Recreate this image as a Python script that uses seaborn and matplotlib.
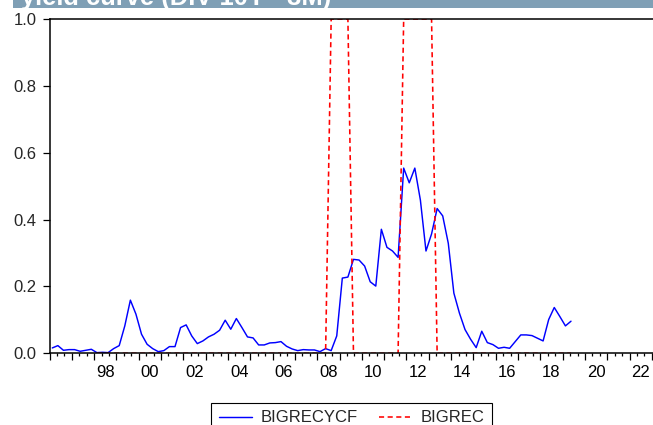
import matplotlib
matplotlib.use("Agg")
import matplotlib.pyplot as plt
from matplotlib.patches import Rectangle
from matplotlib.transforms import Bbox, TransformedBbox
from matplotlib.ticker import MultipleLocator, NullFormatter
import numpy as np
import pandas as pd
import seaborn as sns

sns.set_theme(style="white")
plt.rcParams["font.family"] = ["Liberation Sans", "DejaVu Sans"]

# Quarterly recession probability fitted from the yield curve, 1996Q1-2019Q2
bigrecycf_start = "1996Q1"
bigrecycf = [
    0.016, 0.023, 0.009, 0.011,   # 1996
    0.011, 0.006, 0.009, 0.012,   # 1997
    0.002, 0.003, 0.002, 0.014,   # 1998
    0.023, 0.082, 0.159, 0.117,   # 1999
    0.057, 0.027, 0.014, 0.005,   # 2000
    0.008, 0.020, 0.020, 0.077,   # 2001
    0.085, 0.052, 0.029, 0.037,   # 2002
    0.049, 0.057, 0.069, 0.099,   # 2003
    0.072, 0.104, 0.077, 0.049,   # 2004
    0.046, 0.025, 0.025, 0.031,   # 2005
    0.032, 0.035, 0.021, 0.013,   # 2006
    0.008, 0.011, 0.010, 0.010,   # 2007
    0.005, 0.014, 0.008, 0.052,   # 2008
    0.225, 0.228, 0.281, 0.279,   # 2009
    0.261, 0.214, 0.201, 0.371,   # 2010
    0.317, 0.306, 0.287, 0.554,   # 2011
    0.510, 0.554, 0.458, 0.306,   # 2012
    0.357, 0.433, 0.411, 0.329,   # 2013
    0.180, 0.120, 0.071, 0.042,   # 2014
    0.017, 0.066, 0.032, 0.026,   # 2015
    0.015, 0.018, 0.015, 0.035,   # 2016
    0.055, 0.055, 0.053, 0.045,   # 2017
    0.037, 0.101, 0.137, 0.110,   # 2018
    0.082, 0.096,                 # 2019
]

# Recession indicator, 1998Q1-2019Q2
bigrec_start = "1998Q1"
bigrec = [
    0, 0, 0, 0,   # 1998
    0, 0, 0, 0,   # 1999
    0, 0, 0, 0,   # 2000
    0, 0, 0, 0,   # 2001
    0, 0, 0, 0,   # 2002
    0, 0, 0, 0,   # 2003
    0, 0, 0, 0,   # 2004
    0, 0, 0, 0,   # 2005
    0, 0, 0, 0,   # 2006
    0, 0, 0, 0,   # 2007
    0, 0, 1, 1,   # 2008
    1, 1, 0, 0,   # 2009
    0, 0, 0, 0,   # 2010
    0, 0, 0, 1,   # 2011
    1, 1, 1, 1,   # 2012
    1, 0, 0, 0,   # 2013
    0, 0, 0, 0,   # 2014
    0, 0, 0, 0,   # 2015
    0, 0, 0, 0,   # 2016
    0, 0, 0, 0,   # 2017
    0, 0, 0, 0,   # 2018
    0, 0,         # 2019
]

year_labels = ["98", "00", "02", "04", "06", "08", "10", "12", "14", "16", "18", "20", "22"]
title_text = "yield curve (DIV 10Y - 3M)"


def quarter_positions(start, n):
    """Place each quarter at the middle of its span on a decimal-year axis."""
    per = pd.period_range(start=start, periods=n, freq="Q")
    return per.year + (per.quarter - 1) / 4 + 0.125


df_cf = pd.DataFrame({"t": quarter_positions(bigrecycf_start, len(bigrecycf)),
                      "value": bigrecycf})
df_rec = pd.DataFrame({"t": quarter_positions(bigrec_start, len(bigrec)),
                       "value": bigrec})

W, H = 653, 425
fig = plt.figure(figsize=(W / 100, H / 100), dpi=100)
fig.patch.set_facecolor("white")

ax_left, ax_right, ax_top, ax_bottom = 49.5, 653, 19, 353.3
ax = fig.add_axes([ax_left / W, 1 - ax_bottom / H,
                   (ax_right - ax_left) / W, (ax_bottom - ax_top) / H])
ax.set_facecolor("white")

rec_dash = (3.2, 2.2)
sns.lineplot(data=df_cf, x="t", y="value", ax=ax, color="#0000FF",
             linewidth=1.05, estimator=None, sort=False, legend=False)
sns.lineplot(data=df_rec, x="t", y="value", ax=ax, color="#FF0000",
             linewidth=1.15, estimator=None, sort=False, legend=False)
ax.lines[1].set_dashes(rec_dash)

ax.set_xlim(1996.0, 1996.0 + (ax_right - ax_left) / 22.31)
ax.set_ylim(0, 1.0)
ax.set_xlabel("")
ax.set_ylabel("")

# y axis
ax.yaxis.set_major_locator(MultipleLocator(0.2))
ax.set_yticklabels([f"{v:.1f}" for v in ax.get_yticks()])
ax.tick_params(axis="y", which="major", direction="out", length=4.8, width=0.9,
               color="black", labelsize=12, pad=4.5, left=True)

# x axis: yearly major ticks, four-monthly minor ticks, labels mid-year on even years
ax.xaxis.set_major_locator(MultipleLocator(1.0))
ax.xaxis.set_major_formatter(NullFormatter())
ax.xaxis.set_minor_locator(MultipleLocator(1 / 3))
ax.tick_params(axis="x", which="major", direction="out", length=4.8, width=0.9,
               color="black", bottom=True)
ax.tick_params(axis="x", which="minor", direction="out", length=2.4, width=0.9,
               color="black", bottom=True)
label_pos = [1998.5 + 2 * k for k in range(len(year_labels))]
for pos, lab in zip(label_pos, year_labels):
    ax.text(pos, -0.035, lab, ha="center", va="top", fontsize=12,
            transform=ax.get_xaxis_transform(), color="black")

for side in ["left", "top", "bottom"]:
    ax.spines[side].set_visible(True)
    ax.spines[side].set_color("black")
    ax.spines[side].set_linewidth(1.1)
ax.spines["right"].set_visible(False)

# legend
handles = [
    plt.Line2D([], [], color="#0000FF", linewidth=1.05),
    plt.Line2D([], [], color="#FF0000", linewidth=1.15, dashes=rec_dash),
]
leg = fig.legend(handles, ["BIGRECYCF", "BIGREC"], loc="upper left",
                 bbox_to_anchor=(211 / W, 1 - 403 / H), ncol=2, frameon=True,
                 fancybox=False, edgecolor="black", framealpha=1, fontsize=12,
                 handlelength=2.0, columnspacing=1.3, handletextpad=0.5,
                 borderpad=0.45, borderaxespad=0)
leg.get_frame().set_linewidth(0.8)

# heading strip across the top
band_h, band_x = 8, 13
fig.patches.append(Rectangle((band_x / W, 1 - band_h / H), 1 - band_x / W, band_h / H,
                             transform=fig.transFigure, facecolor="#7F9FB5",
                             edgecolor="none", zorder=0))
t = fig.text(21 / W, 1 - 4.5 / H, title_text, ha="left", va="baseline",
             fontsize=18.4, fontweight="bold", color="white")
t.set_clip_box(TransformedBbox(Bbox([[band_x / W, 1 - band_h / H], [1, 1]]),
                               fig.transFigure))
t.set_clip_on(True)

fig.savefig("out.png", dpi=100)
